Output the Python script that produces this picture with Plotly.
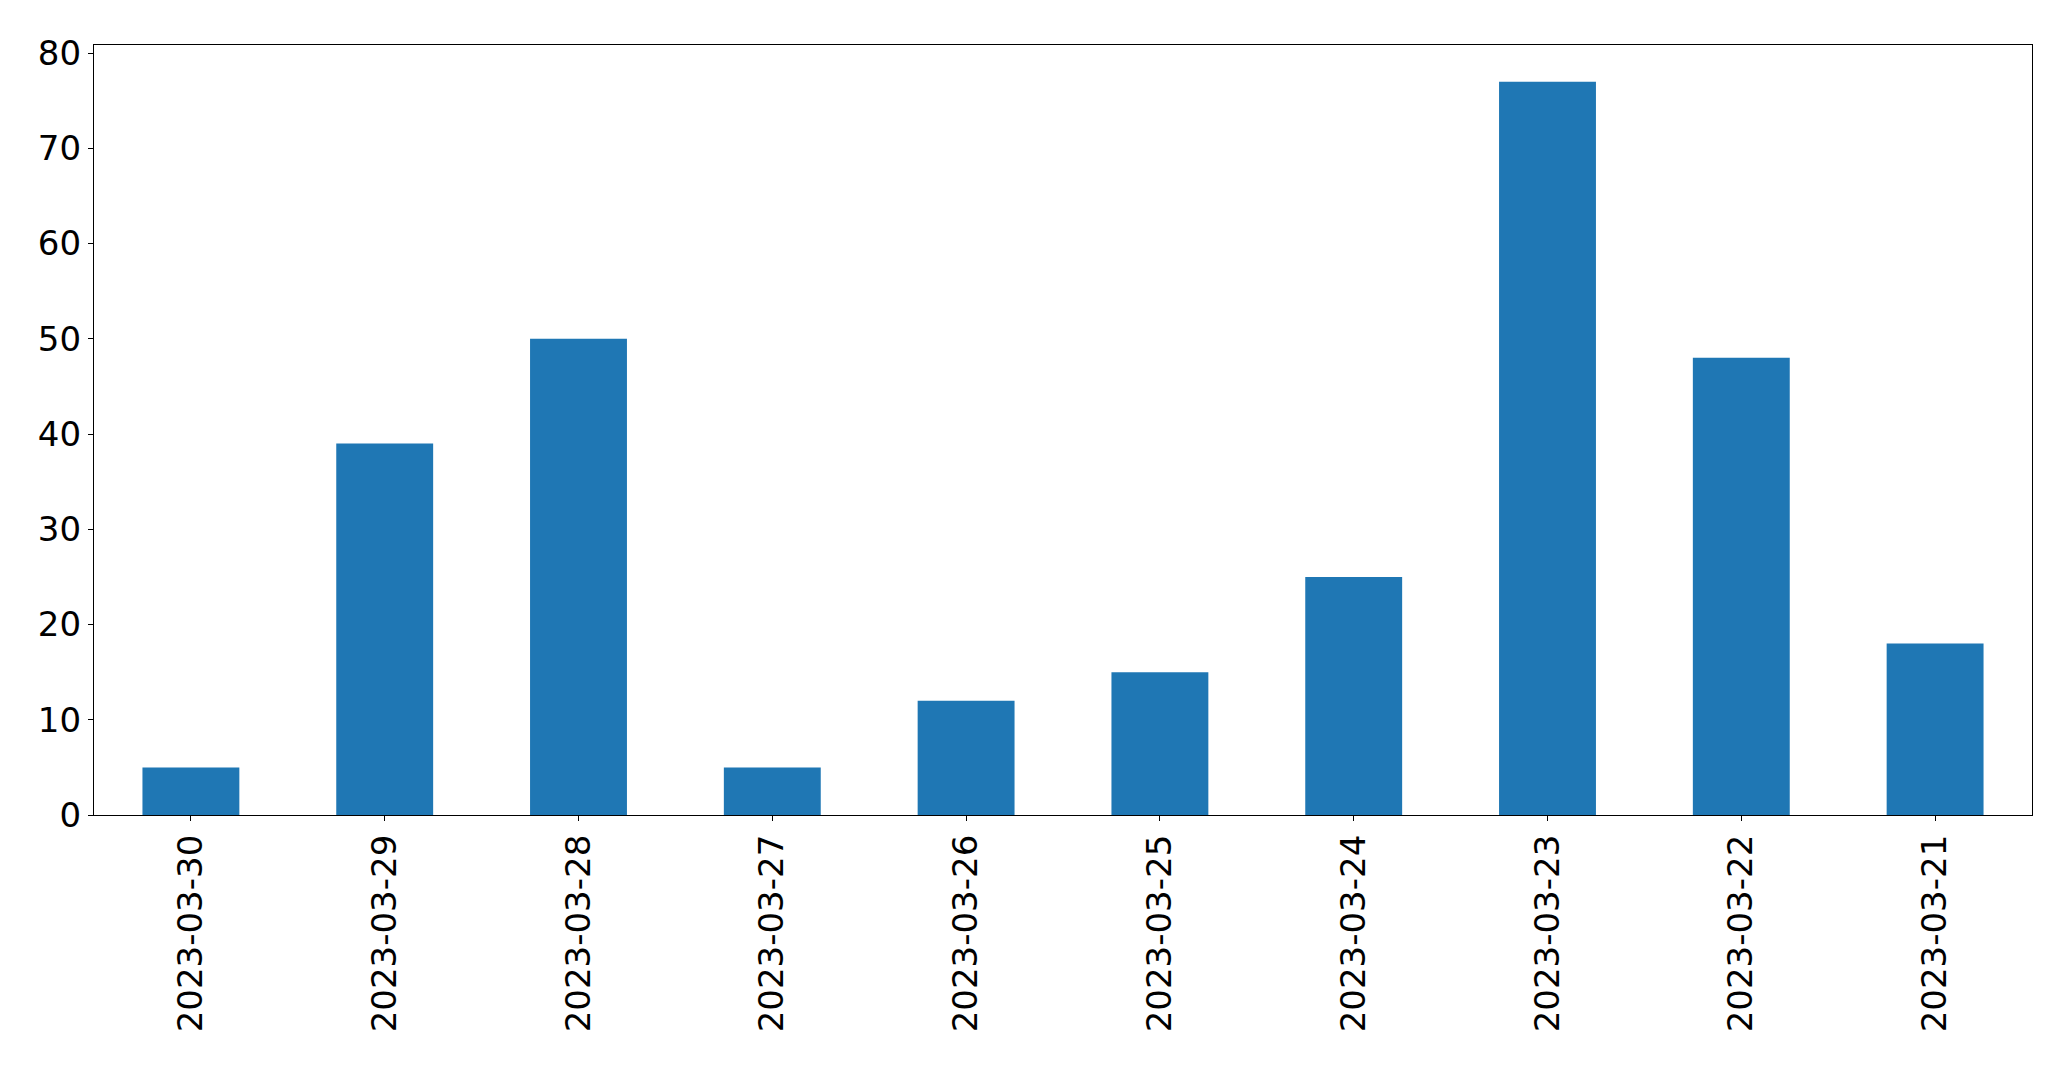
import plotly.graph_objects as go

dates = ["2023-03-30", "2023-03-29", "2023-03-28", "2023-03-27", "2023-03-26",
         "2023-03-25", "2023-03-24", "2023-03-23", "2023-03-22", "2023-03-21"]
counts = [5, 39, 50, 5, 12, 15, 25, 77, 48, 18]
y_ticks = [0, 10, 20, 30, 40, 50, 60, 70, 80]

fig = go.Figure()
fig.add_trace(go.Bar(x=dates, y=counts, width=0.5, marker=dict(color="#1f77b4", line=dict(width=0))))

axis_common = dict(
    showline=True, linecolor="black", linewidth=1.3, mirror=True,
    ticks="outside", ticklen=5, tickwidth=1.3, tickcolor="black",
    showgrid=False, zeroline=False, automargin=False,
    tickfont=dict(family="DejaVu Sans", size=34, color="black"),
)
fig.update_xaxes(type="category", range=[-0.5, 9.5], tickangle=-90, **axis_common)
fig.update_yaxes(range=[0, 80.85], tickvals=y_ticks, **axis_common)

fig.update_layout(
    width=2071, height=1067,
    margin=dict(l=86, r=47, t=37, b=260),
    plot_bgcolor="white", paper_bgcolor="white",
    showlegend=False,
    font=dict(family="DejaVu Sans", color="black"),
)
fig.write_html("out.html")
